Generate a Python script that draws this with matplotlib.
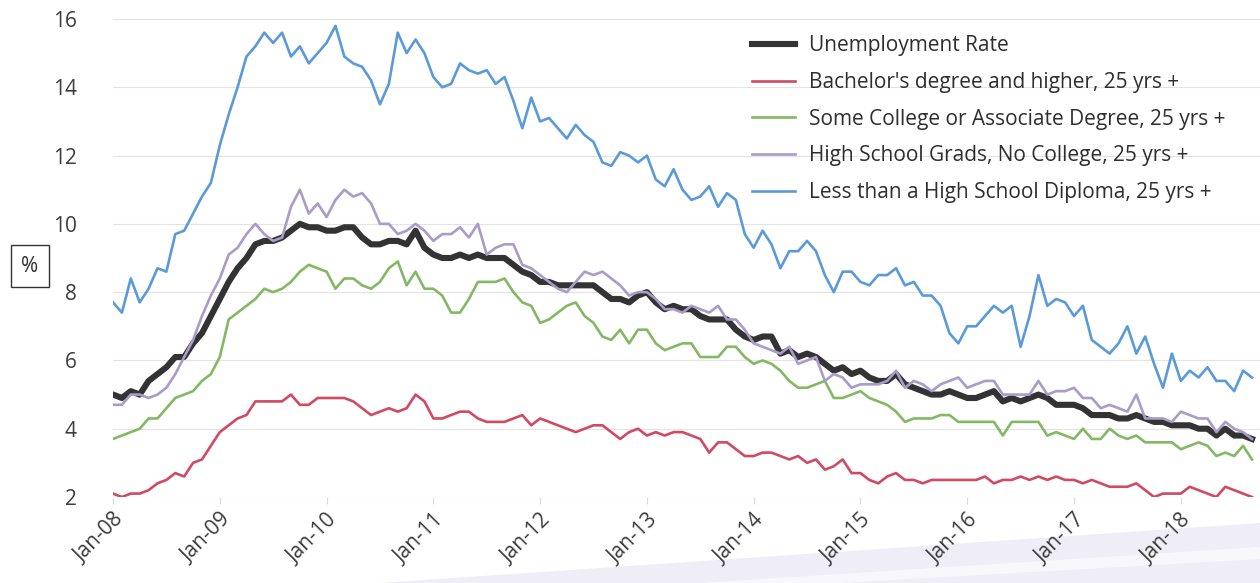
import numpy as np
import matplotlib
matplotlib.use("Agg")
import matplotlib.pyplot as plt
from matplotlib.patches import Polygon

plt.rcParams["font.family"] = ["Open Sans", "DejaVu Sans"]

# monthly, Jan-08 .. Sep-18
unemployment = [
    5.0, 4.9, 5.1, 5.0, 5.4, 5.6, 5.8, 6.1, 6.1, 6.5, 6.8, 7.3,
    7.8, 8.3, 8.7, 9.0, 9.4, 9.5, 9.5, 9.6, 9.8, 10.0, 9.9, 9.9,
    9.8, 9.8, 9.9, 9.9, 9.6, 9.4, 9.4, 9.5, 9.5, 9.4, 9.8, 9.3,
    9.1, 9.0, 9.0, 9.1, 9.0, 9.1, 9.0, 9.0, 9.0, 8.8, 8.6, 8.5,
    8.3, 8.3, 8.2, 8.2, 8.2, 8.2, 8.2, 8.0, 7.8, 7.8, 7.7, 7.9,
    8.0, 7.7, 7.5, 7.6, 7.5, 7.5, 7.3, 7.2, 7.2, 7.2, 6.9, 6.7,
    6.6, 6.7, 6.7, 6.2, 6.3, 6.1, 6.2, 6.1, 5.9, 5.7, 5.8, 5.6,
    5.7, 5.5, 5.4, 5.4, 5.6, 5.3, 5.2, 5.1, 5.0, 5.0, 5.1, 5.0,
    4.9, 4.9, 5.0, 5.1, 4.8, 4.9, 4.8, 4.9, 5.0, 4.9, 4.7, 4.7,
    4.7, 4.6, 4.4, 4.4, 4.4, 4.3, 4.3, 4.4, 4.3, 4.2, 4.2, 4.1,
    4.1, 4.1, 4.0, 4.0, 3.8, 4.0, 3.8, 3.8, 3.7,
]

bachelors = [
    2.1, 2.0, 2.1, 2.1, 2.2, 2.4, 2.5, 2.7, 2.6, 3.0, 3.1, 3.5,
    3.9, 4.1, 4.3, 4.4, 4.8, 4.8, 4.8, 4.8, 5.0, 4.7,
    4.7, 4.9, 4.9, 4.9, 4.9, 4.8, 4.6, 4.4, 4.5, 4.6, 4.5, 4.6,
    5.0, 4.8, 4.3, 4.3, 4.4, 4.5, 4.5, 4.3, 4.2,
    4.2, 4.2, 4.3, 4.4, 4.1, 4.3, 4.2, 4.1, 4.0, 3.9, 4.0, 4.1,
    4.1, 3.9, 3.7, 3.9, 4.0, 3.8, 3.9, 3.8, 3.9, 3.9,
    3.8, 3.7, 3.3, 3.6, 3.6, 3.4, 3.2, 3.2, 3.3, 3.3, 3.2, 3.1,
    3.2, 3.0, 3.1, 2.8, 2.9, 3.1, 2.7, 2.7, 2.5,
    2.4, 2.6, 2.7, 2.5, 2.5, 2.4, 2.5, 2.5, 2.5, 2.5, 2.5, 2.5,
    2.6, 2.4, 2.5, 2.5, 2.6, 2.5, 2.6, 2.5, 2.6,
    2.5, 2.5, 2.4, 2.5, 2.4, 2.3, 2.3, 2.3, 2.4, 2.2, 2.0, 2.1,
    2.1, 2.1, 2.3, 2.2, 2.1, 2.0, 2.3, 2.2, 2.1, 2.0,
]

some_college = [
    3.7, 3.8, 3.9, 4.0, 4.3, 4.3, 4.6, 4.9, 5.0, 5.1, 5.4, 5.6,
    6.1, 7.2, 7.4, 7.6, 7.8, 8.1, 8.0, 8.1, 8.3, 8.6,
    8.8, 8.7, 8.6, 8.1, 8.4, 8.4, 8.2, 8.1, 8.3, 8.7, 8.9, 8.2,
    8.6, 8.1, 8.1, 7.9, 7.4, 7.4, 7.8, 8.3, 8.3,
    8.3, 8.4, 8.0, 7.7, 7.6, 7.1, 7.2, 7.4, 7.6, 7.7, 7.3, 7.1,
    6.7, 6.6, 6.9, 6.5, 6.9, 6.9, 6.5, 6.3, 6.4, 6.5,
    6.5, 6.1, 6.1, 6.1, 6.4, 6.4, 6.1, 5.9, 6.0, 5.9, 5.7, 5.4,
    5.2, 5.2, 5.3, 5.4, 4.9, 4.9, 5.0, 5.1, 4.9,
    4.8, 4.7, 4.5, 4.2, 4.3, 4.3, 4.3, 4.4, 4.4, 4.2, 4.2, 4.2,
    4.2, 4.2, 3.8, 4.2, 4.2, 4.2, 4.2, 3.8, 3.9,
    3.8, 3.7, 4.0, 3.7, 3.7, 4.0, 3.8, 3.7, 3.8, 3.6, 3.6, 3.6,
    3.6, 3.4, 3.5, 3.6, 3.5, 3.2, 3.3, 3.2, 3.5, 3.1,
]

high_school = [
    4.7, 4.7, 5.0, 5.0, 4.9, 5.0, 5.2, 5.6, 6.1, 6.6, 7.3, 7.9,
    8.4, 9.1, 9.3, 9.7, 10.0, 9.7, 9.5, 9.6, 10.5, 11.0,
    10.3, 10.6, 10.2, 10.7, 11.0, 10.8, 10.9, 10.6, 10.0, 10.0, 9.7, 9.8,
    10.0, 9.8, 9.5, 9.7, 9.7, 9.9, 9.6, 10.0, 9.1,
    9.3, 9.4, 9.4, 8.8, 8.7, 8.5, 8.3, 8.1, 8.0, 8.3, 8.6, 8.5,
    8.6, 8.4, 8.2, 7.9, 8.0, 8.0, 7.8, 7.5, 7.5, 7.4,
    7.6, 7.5, 7.4, 7.6, 7.2, 7.2, 6.9, 6.5, 6.4, 6.3, 6.2, 6.4,
    5.9, 6.0, 6.1, 5.4, 5.6, 5.5, 5.2, 5.3, 5.3,
    5.3, 5.4, 5.7, 5.2, 5.4, 5.3, 5.1, 5.3, 5.4, 5.5, 5.2, 5.3,
    5.4, 5.4, 5.0, 5.0, 5.0, 5.0, 5.4, 5.0, 5.1,
    5.1, 5.2, 4.9, 4.9, 4.6, 4.7, 4.6, 4.5, 5.0, 4.3, 4.3, 4.3,
    4.2, 4.5, 4.4, 4.3, 4.3, 3.9, 4.2, 4.0, 3.9, 3.7,
]

less_than_hs = [
    7.7, 7.4, 8.4, 7.7, 8.1, 8.7, 8.6, 9.7, 9.8, 10.3, 10.8, 11.2,
    12.3, 13.2, 14.0, 14.9, 15.2, 15.6, 15.3, 15.6, 14.9, 15.2,
    14.7, 15.0, 15.3, 15.8, 14.9, 14.7, 14.6, 14.2, 13.5, 14.1, 15.6, 15.0,
    15.4, 15.0, 14.3, 14.0, 14.1, 14.7, 14.5, 14.4, 14.5,
    14.1, 14.3, 13.6, 12.8, 13.7, 13.0, 13.1, 12.8, 12.5, 12.9, 12.6, 12.4,
    11.8, 11.7, 12.1, 12.0, 11.8, 12.0, 11.3, 11.1, 11.6, 11.0,
    10.7, 10.8, 11.1, 10.5, 10.9, 10.7, 9.7, 9.3, 9.8, 9.4, 8.7, 9.2,
    9.2, 9.5, 9.2, 8.5, 8.0, 8.6, 8.6, 8.3, 8.2,
    8.5, 8.5, 8.7, 8.2, 8.3, 7.9, 7.9, 7.6, 6.8, 6.5, 7.0, 7.0,
    7.3, 7.6, 7.4, 7.6, 6.4, 7.3, 8.5, 7.6, 7.8,
    7.7, 7.3, 7.6, 6.6, 6.4, 6.2, 6.5, 7.0, 6.2, 6.7, 5.9, 5.2,
    6.2, 5.4, 5.7, 5.5, 5.8, 5.4, 5.4, 5.1, 5.7, 5.5,
]

tick_labels = ["Jan-%02d" % y for y in range(8, 19)]
labels = [
    "Unemployment Rate",
    "Bachelor's degree and higher, 25 yrs +",
    "Some College or Associate Degree, 25 yrs +",
    "High School Grads, No College, 25 yrs +",
    "Less than a High School Diploma, 25 yrs +",
]

W, H = 1260, 583
fig = plt.figure(figsize=(W / 100, H / 100), dpi=100)

# pale swoosh at the bottom right of the page, behind everything
fig.patches.append(Polygon([(380 / W, 0), (1.0, 60 / H), (1.0, 0)], closed=True,
                           transform=fig.transFigure, fc="#efeef6", ec="none", zorder=-5))
fig.patches.append(Polygon([(700 / W, 0), (1.0, 36 / H), (1.0, 24 / H), (840 / W, 0)], closed=True,
                           transform=fig.transFigure, fc="#f8f8fc", ec="none", zorder=-4))

ax = fig.add_axes([113 / W, (H - 497) / H, (W - 113) / W, 478 / H])
ax.set_facecolor("none")

x = np.arange(len(unemployment))
h_black, = ax.plot(x, unemployment, color="#333333", lw=4.4, solid_joinstyle="round", zorder=3)
h_red, = ax.plot(x, bachelors, color="#cf4a62", lw=1.9, zorder=4)
h_green, = ax.plot(x, some_college, color="#83b865", lw=1.9, zorder=4)
h_purple, = ax.plot(x, high_school, color="#a99cc8", lw=1.9, zorder=4)
h_blue, = ax.plot(x, less_than_hs, color="#5b9ad9", lw=1.9, zorder=4)

ax.set_xlim(0, 128.9)
ax.set_ylim(2, 16)
ax.set_yticks(np.arange(2, 17, 2))
ax.set_xticks(np.arange(0, len(unemployment), 12))
ax.set_xticklabels(tick_labels, rotation=45, ha="right", rotation_mode="anchor")
ax.grid(axis="y", color="#e3e3e3", lw=0.8)
ax.set_axisbelow(True)
for s in ax.spines.values():
    s.set_visible(False)
ax.tick_params(axis="y", length=0, pad=26, labelsize=15, labelcolor="#3c3c3c")
ax.tick_params(axis="x", length=5, width=0.8, color="#dcdcdc", pad=4,
               labelsize=15, labelcolor="#3c3c3c")

leg = ax.legend([h_black, h_red, h_green, h_purple, h_blue], labels,
                loc="upper left", bbox_to_anchor=(752 / W, 1 - 35 / H),
                bbox_transform=fig.transFigure, frameon=False, fontsize=15,
                handlelength=2.05, handletextpad=0.7, labelspacing=0.76,
                borderpad=0, borderaxespad=0)
for t in leg.get_texts():
    t.set_color("#2e2e2e")

fig.text(30 / W, 1 - 266 / H, "%", ha="center", va="center", fontsize=15,
         color="#2e2e2e",
         bbox=dict(boxstyle="square,pad=0.5", fc="white", ec="#333333", lw=1.0))

fig.savefig("out.png", dpi=100)
